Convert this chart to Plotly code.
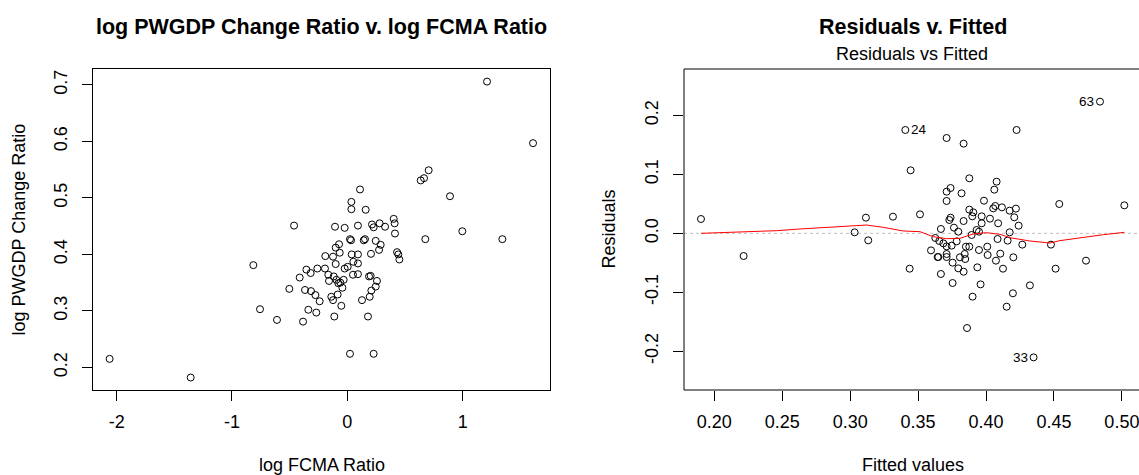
import plotly.graph_objects as go
import numpy as np

# ---------------- data: left panel (log FCMA ratio vs log PWGDP change ratio)
log_fcma = [-2.061, -1.358, -0.815, -0.757, -0.610, -0.462, -0.503, -0.413, -0.355, -0.318,
            -0.367, -0.315, -0.277, -0.240, -0.338, -0.269, -0.384, -0.260, -0.194, -0.191,
            -0.165, -0.159, -0.139, -0.124, -0.113, -0.124, -0.107, -0.101, -0.072, -0.101,
            -0.066, -0.118, -0.095, -0.078, -0.061, -0.043, -0.032, -0.084, -0.052, -0.023,
            -0.023, 0.003, 0.035, 0.035, 0.023, 0.032, 0.038, 0.052, 0.049, 0.023,
            0.092, 0.110, 0.092, 0.092, 0.092, 0.142, 0.153, 0.159, 0.127, 0.179,
            0.194, 0.202, 0.205, 0.214, 0.228, 0.208, 0.246, 0.257, 0.228, 0.246,
            0.275, 0.289, 0.280, 0.327, 0.402, 0.410, 0.413, 0.431, 0.442, 0.451,
            0.636, 0.665, 0.705, 0.676, 0.890, 0.997, 1.211, 1.344, 1.610, 0.188]
log_pwgdp = [0.215, 0.182, 0.381, 0.303, 0.284, 0.451, 0.339, 0.359, 0.373, 0.367,
             0.337, 0.335, 0.328, 0.317, 0.302, 0.297, 0.281, 0.375, 0.375, 0.397,
             0.364, 0.353, 0.325, 0.319, 0.290, 0.396, 0.449, 0.412, 0.418, 0.383,
             0.403, 0.361, 0.355, 0.349, 0.350, 0.341, 0.355, 0.329, 0.309, 0.447,
             0.375, 0.378, 0.493, 0.480, 0.427, 0.425, 0.400, 0.387, 0.364, 0.224,
             0.451, 0.515, 0.400, 0.384, 0.365, 0.425, 0.427, 0.479, 0.319, 0.290,
             0.325, 0.362, 0.401, 0.453, 0.448, 0.336, 0.343, 0.353, 0.224, 0.424,
             0.408, 0.417, 0.455, 0.449, 0.463, 0.455, 0.437, 0.404, 0.400, 0.391,
             0.531, 0.535, 0.549, 0.427, 0.503, 0.441, 0.706, 0.427, 0.597, 0.361]

# ---------------- data: right panel (residuals vs fitted)
fitted = [0.1902, 0.2216, 0.3033, 0.3116, 0.3133, 0.3315, 0.3406, 0.3445, 0.3438, 0.3514,
          0.3710, 0.3835, 0.4225, 0.4839, 0.4350, 0.3860, 0.3877, 0.4078, 0.4061, 0.3739,
          0.3710, 0.3710, 0.3820, 0.3985, 0.4539, 0.5018, 0.3877, 0.3906, 0.3968, 0.3899,
          0.4029, 0.4053, 0.4068, 0.4117, 0.4174, 0.4220, 0.4208, 0.4240, 0.4089, 0.3835,
          0.3739, 0.3730, 0.3668, 0.3764, 0.3796, 0.3968, 0.3931, 0.3948, 0.3894, 0.4174,
          0.3627, 0.3656, 0.3686, 0.3710, 0.3747, 0.3784, 0.4085, 0.4159, 0.4267, 0.4478,
          0.3595, 0.3649, 0.3644, 0.3710, 0.3710, 0.3754, 0.3796, 0.3835, 0.3808, 0.3843,
          0.3847, 0.3852, 0.3877, 0.3948, 0.4009, 0.4012, 0.4073, 0.4105, 0.4201, 0.4125,
          0.3936, 0.3668, 0.3754, 0.3960, 0.3901, 0.4198, 0.4323, 0.4152, 0.4512, 0.4736]
residuals = [0.0243, -0.0385, 0.0017, 0.0266, -0.0119, 0.0283, 0.1754, 0.1069, -0.0600, 0.0322,
             0.1618, 0.1522, 0.1754, 0.2235, -0.2105, -0.1607, 0.0934, 0.0877, 0.0741, 0.0769,
             0.0707, 0.0549, 0.0679, 0.0554, 0.0498, 0.0475, 0.0402, 0.0356, 0.0289, 0.0289,
             0.0249, 0.0424, 0.0464, 0.0441, 0.0385, 0.0419, 0.0272, 0.0130, 0.0170, 0.0209,
             0.0266, 0.0226, 0.0074, 0.0096, 0.0028, 0.0170, 0.0057, 0.0028, -0.0028, 0.0017,
             -0.0079, -0.0130, -0.0170, -0.0221, -0.0209, -0.0136, -0.0096, -0.0124, -0.0192, -0.0192,
             -0.0289, -0.0402, -0.0402, -0.0351, -0.0402, -0.0498, -0.0594, -0.0651, -0.0407, -0.0351,
             -0.0436, -0.0226, -0.0226, -0.0283, -0.0226, -0.0368, -0.0464, -0.0345, -0.0407, -0.0600,
             -0.0577, -0.0690, -0.0843, -0.0866, -0.1075, -0.1018, -0.0883, -0.1245, -0.0600, -0.0464]

# red smoother
smooth_fitted = [0.1902, 0.2054, 0.2287, 0.2459, 0.2631, 0.2802, 0.2999, 0.3121, 0.3244, 0.3391,
                 0.3514, 0.3612, 0.3710, 0.3808, 0.3906, 0.4004, 0.4103, 0.4176, 0.4323, 0.4471,
                 0.4544, 0.4740, 0.4863, 0.5018]
smooth_resid = [0.0, 0.0011, 0.0023, 0.0045, 0.0074, 0.0096, 0.0130, 0.0141, 0.0102, 0.0040,
                0.0028, -0.0057, -0.0091, -0.0085, -0.0011, 0.0011, -0.0017, -0.0074, -0.0130, -0.0164,
                -0.0124, -0.0057, -0.0023, 0.0017]

# labels of the three largest |residuals|, in order of fitted value
id_labels = ["24", "33", "63"]

left_xticks = [-2, -1, 0, 1]
left_xticktext = ["-2", "-1", "0", "1"]
left_yticks = [0.2, 0.3, 0.4, 0.5, 0.6, 0.7]
left_yticktext = ["0.2", "0.3", "0.4", "0.5", "0.6", "0.7"]
right_xticks = [0.20, 0.25, 0.30, 0.35, 0.40, 0.45, 0.50]
right_xticktext = ["0.20", "0.25", "0.30", "0.35", "0.40", "0.45", "0.50"]
right_yticks = [-0.2, -0.1, 0.0, 0.1, 0.2]
right_yticktext = ["-0.2", "-0.1", "0.0", "0.1", "0.2"]

# ---------------- layout helpers
W, H = 1139, 475
FONT = "Liberation Sans, Arial, sans-serif"
def px(x):
    return x / W
def py(y):
    return 1 - y / H

fig = go.Figure()

fig.add_trace(go.Scatter(x=log_fcma, y=log_pwgdp, mode="markers",
                         marker=dict(symbol="circle-open", size=7, color="black",
                                     line=dict(width=1, color="black")),
                         xaxis="x", yaxis="y", showlegend=False, hoverinfo="x+y"))

fig.add_trace(go.Scatter(x=fitted, y=residuals, mode="markers",
                         marker=dict(symbol="circle-open", size=7, color="black",
                                     line=dict(width=1, color="black")),
                         xaxis="x2", yaxis="y2", showlegend=False, hoverinfo="x+y"))

fig.add_trace(go.Scatter(x=smooth_fitted, y=smooth_resid, mode="lines",
                         line=dict(color="red", width=1),
                         xaxis="x2", yaxis="y2", showlegend=False, hoverinfo="skip"))

# dotted zero line
fig.add_shape(type="line", xref="x2 domain", yref="y2", x0=0, x1=1, y0=0, y1=0,
              line=dict(color="#BEBEBE", width=1, dash="dot"), layer="below")
# right panel box (right edge falls outside the image)
fig.add_shape(type="rect", xref="x2 domain", yref="y2 domain", x0=0, x1=1.05, y0=0, y1=1,
              line=dict(color="black", width=1), layer="above")

# id labels
f_arr = np.array(fitted)
r_arr = np.array(residuals)
top = np.argsort(-np.abs(r_arr))[:3]
top = top[np.argsort(f_arr[top])]
mid = (f_arr.min() + f_arr.max()) / 2
for lab, i in zip(id_labels, top):
    right_side = f_arr[i] < mid
    fig.add_annotation(x=f_arr[i], y=r_arr[i], xref="x2", yref="y2", text=lab,
                       showarrow=False, xanchor="left" if right_side else "right",
                       xshift=4 if right_side else -4, yanchor="middle",
                       font=dict(family=FONT, size=13.5, color="black"))

axis_common = dict(showgrid=False, zeroline=False, ticks="outside", ticklen=10,
                   tickcolor="black", tickwidth=1, linecolor="black", linewidth=1,
                   tickfont=dict(family=FONT, size=18, color="black"),
                   ticklabeloverflow="allow")

fig.update_layout(
    width=W, height=H,
    margin=dict(l=0, r=0, t=0, b=0),
    paper_bgcolor="white", plot_bgcolor="white",
    xaxis=dict(domain=[px(93), px(550)], range=[-2.205, 1.757], tickvals=left_xticks,
               ticktext=left_xticktext, showline=True, mirror=True, anchor="y",
               ticklabelstandoff=5, **axis_common),
    yaxis=dict(domain=[py(390), py(69)], range=[0.1599, 0.7283], tickvals=left_yticks,
               ticktext=left_yticktext, showline=True, mirror=True, tickangle=-90,
               anchor="x", ticklabelstandoff=8, **axis_common),
    xaxis2=dict(domain=[px(684), 1], range=[0.1777, 0.5126], tickvals=right_xticks,
                ticktext=right_xticktext, showline=False, anchor="y2",
                ticklabelstandoff=5, **axis_common),
    yaxis2=dict(domain=[py(390), py(69)], range=[-0.2659, 0.2789], tickvals=right_yticks,
                ticktext=right_yticktext, showline=False, tickangle=-90,
                anchor="x2", ticklabelstandoff=8, **axis_common),
)

def text_ann(x, y, text, size, bold=False, angle=0):
    fig.add_annotation(x=px(x), y=py(y), xref="paper", yref="paper",
                       text=f"<b>{text}</b>" if bold else text, showarrow=False,
                       xanchor="center", yanchor="middle", textangle=angle,
                       font=dict(family=FONT, size=size, color="black"))

text_ann(321.5, 27, "log PWGDP Change Ratio v. log FCMA Ratio", 21.5, bold=True)
text_ann(913, 27, "Residuals v. Fitted", 21.5, bold=True)
text_ann(912, 54, "Residuals vs Fitted", 18)
text_ann(321.5, 465, "log FCMA Ratio", 18)
text_ann(913, 465, "Fitted values", 18)
text_ann(18, 229.5, "log PWGDP Change Ratio", 18, angle=-90)
text_ann(608, 229.5, "Residuals", 18, angle=-90)

fig.write_html("out.html",
               config={"displayModeBar": False},
               post_script="document.body.style.margin='0px';"
                           "document.body.style.overflow='hidden';")
